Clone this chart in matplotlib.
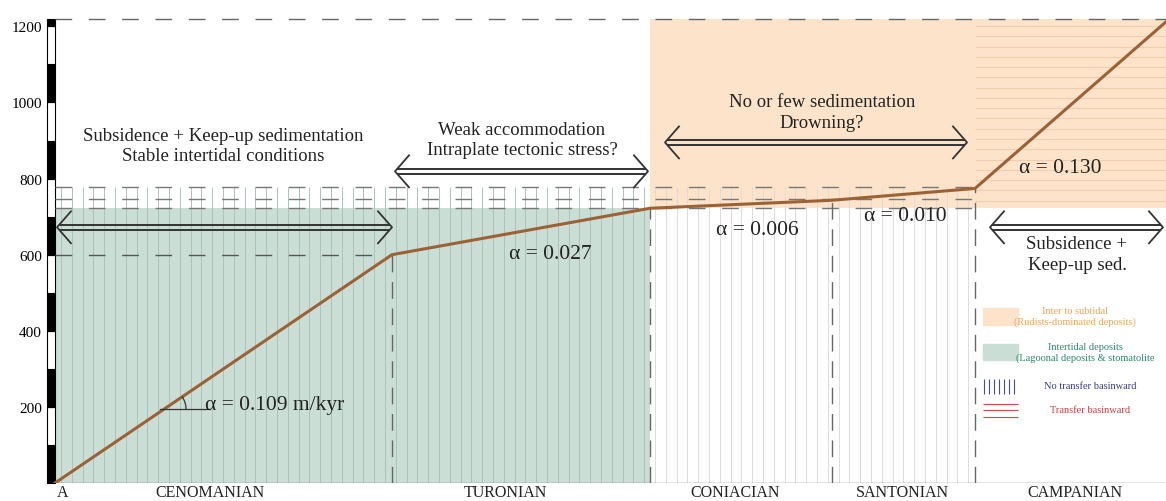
import numpy as np
import matplotlib
matplotlib.use('Agg')
import matplotlib.pyplot as plt

plt.rcParams['font.family'] = ['Liberation Serif', 'DejaVu Serif']

# stage boundaries (relative time units) and accumulated thickness (m)
stages = ['CENOMANIAN', 'TURONIAN', 'CONIACIAN', 'SANTONIAN', 'CAMPANIAN']
stage_edges = [0, 337, 595, 777, 920, 1111]
stage_label_x = [155, 450, 680, 847, 1020]
thickness = [0, 600, 722, 743, 774, 1212]

rates = ['α = 0.109 m/kyr', 'α = 0.027', 'α = 0.006', 'α = 0.010', 'α = 0.130']
rate_pos = [(150, 207, 'left'), (495, 604, 'center'), (702, 667, 'center'),
            (850, 703, 'center'), (1005, 829, 'center')]

yticks = [200, 400, 600, 800, 1000, 1200]
ref_levels = [723, 747, 779]
top_level = 1220
facies_top = 722

# annotations: text, text x, text y, arrow x0, arrow x1, arrow y
notes = [
    ('Subsidence + Keep-up sedimentation\nStable intertidal conditions', 168, 887, 2, 337, 672),
    ('Weak accommodation\nIntraplate tectonic stress?', 467, 903, 340, 593, 819),
    ('No or few sedimentation\nDrowning?', 767, 975, 610, 912, 895),
    ('Subsidence +\nKeep-up sed.', 1022, 602, 935, 1108, 672),
]

green = '#cbded6'
orange = '#fce3ca'
brown = '#9c6236'
dark = '#333333'


def double_arrow(ax, x0, x1, y):
    for dy in (6.5, -6.5):
        ax.plot([x0 + 3, x1 - 3], [y + dy, y + dy], color=dark, lw=1.4, zorder=6)
    ax.plot([x0 + 14, x0, x0 + 14], [y + 42, y, y - 42], color=dark, lw=1.3, zorder=6)
    ax.plot([x1 - 14, x1, x1 - 14], [y + 42, y, y - 42], color=dark, lw=1.3, zorder=6)


fig = plt.figure(figsize=(11.66, 5.02), dpi=100)
ax = fig.add_axes([46 / 1166, 18 / 502, 1120 / 1166, 465 / 502])
ax.set_xlim(-9, 1111)
ax.set_ylim(0, 1222)
for s in ax.spines.values():
    s.set_visible(False)
ax.set_xticks([])
ax.set_yticks(yticks)
ax.tick_params(axis='y', length=0, pad=3, labelsize=11)

# facies fills
ax.fill_between([stage_edges[0], stage_edges[2]], 0, facies_top, color=green, lw=0, zorder=1)
ax.fill_between([stage_edges[2], stage_edges[5]], facies_top, top_level, color=orange, lw=0, zorder=1)

# vertical hatching (no transfer basinward)
hx = np.arange(6, stage_edges[4], 10.8)
hx_g = hx[hx < stage_edges[2]]
hx_w = hx[hx >= stage_edges[2]]
ax.vlines(hx_g, 0, ref_levels[-1], color='#aac3b8', lw=0.7, zorder=2)
ax.vlines(hx_w, 0, ref_levels[-1], color='#dcdcdc', lw=0.7, zorder=2)
# horizontal hatching (transfer basinward)
hy = np.arange(facies_top + 20, top_level - 5, 27)
ax.hlines(hy, stage_edges[4], stage_edges[5], color='#efcfb0', lw=0.8, zorder=2)

# scale bar
for k in range(13):
    h = min(100, top_level - k * 100)
    ax.bar(-4.5, h, width=8, bottom=k * 100, color='black' if k % 2 == 0 else 'white',
           edgecolor='black', lw=0.8, zorder=3, clip_on=False)

# reference dashed lines
ax.hlines(top_level, 0, stage_edges[5], color='#666666', lw=1, linestyles=(0, (12, 12)), zorder=3)
ax.hlines(thickness[1], 0, stage_edges[1], color='#555555', lw=1, linestyles=(0, (12, 12)), zorder=3)
ax.hlines(ref_levels, 0, stage_edges[4], color='#777777', lw=1, linestyles=(0, (12, 12)), zorder=3)
ax.vlines(stage_edges[1:5], 0, thickness[1:5], color='#666666', lw=1,
          linestyles=(0, (12, 7)), zorder=3)
ax.hlines(0, 0, stage_edges[5], color='#777777', lw=1, zorder=3)

# subsidence curve
ax.plot(stage_edges, thickness, color=brown, lw=2.2, zorder=5)

# angle marker
ax.plot([105, 155], [194, 194], color=dark, lw=0.9, zorder=5)
t = np.radians(np.linspace(0, 34, 20))
ax.plot(109 + 22 * np.cos(t), 194 + 22 * np.sin(t) / 0.381, color=dark, lw=0.9, zorder=5)

for txt, (x, y, ha) in zip(rates, rate_pos):
    ax.text(x, y, txt, ha=ha, va='center', fontsize=15.5, color='#222222', zorder=7)

for txt, tx, ty, x0, x1, ay in notes:
    ax.text(tx, ty, txt, ha='center', va='center', fontsize=13.5, color='#222222',
            linespacing=1.25, zorder=7)
    double_arrow(ax, x0, x1, ay)

for name, x in zip(stages, stage_label_x):
    ax.text(x, -24, name, ha='center', va='center', fontsize=11.5, color='#222222')
ax.text(2, -24, 'A', ha='left', va='center', fontsize=11.5, color='#222222')

# legend
ax.add_patch(plt.Rectangle((928, 415), 35, 44, color=orange, zorder=6))
ax.add_patch(plt.Rectangle((928, 323), 35, 42, color=green, zorder=6))
ax.vlines(np.arange(929, 964, 5), 234, 273, color='#4a4a9a', lw=0.8, zorder=6)
ax.hlines([173, 192, 207], 928, 963, color='#d04848', lw=0.8, zorder=6)
ax.text(1020, 438, 'Inter to subtidal\n(Rudists-dominated deposits)', ha='center', va='center',
        fontsize=7.5, color='#f0a458', zorder=7)
ax.text(1030, 344, 'Intertidal deposits\n(Lagoonal deposits & stomatolite', ha='center', va='center',
        fontsize=7.5, color='#2a8a6a', zorder=7)
ax.text(1035, 255, 'No transfer basinward', ha='center', va='center', fontsize=7.5,
        color='#3b3b8f', zorder=7)
ax.text(1035, 192, 'Transfer basinward', ha='center', va='center', fontsize=7.5,
        color='#d04040', zorder=7)

fig.savefig('out.png', dpi=100)
